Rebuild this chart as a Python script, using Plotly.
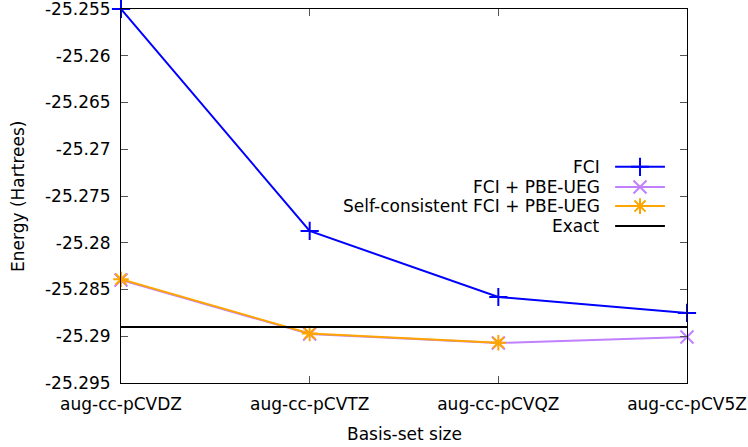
import plotly.graph_objects as go

basis = ["aug-cc-pCVDZ", "aug-cc-pCVTZ", "aug-cc-pCVQZ", "aug-cc-pCV5Z"]
fci = [-25.2550, -25.27874, -25.28580, -25.28751]
fci_pbe = [-25.28398, -25.28976, -25.29072, -25.29008]
sc_fci_pbe = [-25.28390, -25.28970, -25.29070]
exact = -25.28901
yticks = [-25.255, -25.26, -25.265, -25.27, -25.275, -25.28, -25.285, -25.29, -25.295]
ytick_text = ["-25.255", "-25.26", "-25.265", "-25.27", "-25.275", "-25.28", "-25.285", "-25.29", "-25.295"]

names = ["FCI", "FCI + PBE-UEG", "Self-consistent FCI + PBE-UEG", "Exact"]
colors = ["#0000ff", "#c080ff", "#ffa500", "#000000"]
symbols = ["cross-thin", "x-thin", "asterisk-open", None]

FONT = "DejaVu Sans"
FS = 17

xs = list(range(len(basis)))
fig = go.Figure()
series = [fci, fci_pbe, sc_fci_pbe]
for vals, name, col, sym in zip(series, names, colors, symbols):
    fig.add_trace(go.Scatter(
        x=xs[:len(vals)], y=vals, name=name, mode="lines+markers",
        line=dict(color=col, width=2),
        marker=dict(symbol=sym, size=13, line=dict(color=col, width=2), color=col),
        cliponaxis=False, showlegend=False))
fig.add_trace(go.Scatter(x=[xs[0], xs[-1]], y=[exact, exact], name="Exact", mode="lines",
                         line=dict(color="#000000", width=2), showlegend=False))

# custom gnuplot-style legend (text right, sample left->right)
leg_rows = [0.578, 0.524, 0.473, 0.420]
lx0, lx1, lxm, ltx = 0.873, 0.961, 0.917, 0.850
for nm, col, sym, ry in zip(names, colors, symbols, leg_rows):
    fig.add_trace(go.Scatter(
        x=[lx0, lx1], y=[ry, ry], xaxis="x2", yaxis="y2", mode="lines",
        line=dict(color=col, width=2), showlegend=False, hoverinfo="skip"))
    if sym:
        fig.add_trace(go.Scatter(
            x=[lxm], y=[ry], xaxis="x2", yaxis="y2", mode="markers",
            marker=dict(symbol=sym, size=13, color=col, line=dict(color=col, width=2)),
            showlegend=False, hoverinfo="skip"))
    fig.add_annotation(x=ltx, y=ry, xref="paper", yref="paper", text=nm, showarrow=False,
                       xanchor="right", yanchor="middle", font=dict(family=FONT, size=FS, color="#000000"))

fig.add_annotation(x=-0.182, y=0.5, xref="paper", yref="paper", text="Energy (Hartrees)",
                   textangle=-90, showarrow=False, xanchor="center", yanchor="middle",
                   font=dict(family=FONT, size=FS, color="#000000"))
fig.add_annotation(x=0.5, y=-0.136, xref="paper", yref="paper", text="Basis-set size",
                   showarrow=False, xanchor="center", yanchor="middle",
                   font=dict(family=FONT, size=FS, color="#000000"))

axis_common = dict(showgrid=False, zeroline=False, showline=True, linecolor="#000000", linewidth=1,
                   mirror="ticks", ticks="inside", ticklen=7, tickcolor="#555555", tickwidth=1,
                   automargin=False, ticklabeloverflow="allow",
                   tickfont=dict(family=FONT, size=FS, color="#000000"))
fig.update_layout(
    width=748, height=447, margin=dict(l=121, r=61, t=9, b=64, autoexpand=False),
    plot_bgcolor="#ffffff", paper_bgcolor="#ffffff",
    xaxis=dict(range=[0, 3], tickvals=xs, ticktext=basis, ticklabelstandoff=6, **axis_common),
    yaxis=dict(range=[-25.295, -25.255], tickvals=yticks, ticktext=ytick_text, ticklabelstandoff=6, **axis_common),
    xaxis2=dict(range=[0, 1], overlaying="x", visible=False),
    yaxis2=dict(range=[0, 1], overlaying="y", visible=False),
    showlegend=False,
)
fig.write_html("out.html", config={"displayModeBar": False},
               post_script="document.body.style.margin='0';document.body.style.overflow='hidden';")
